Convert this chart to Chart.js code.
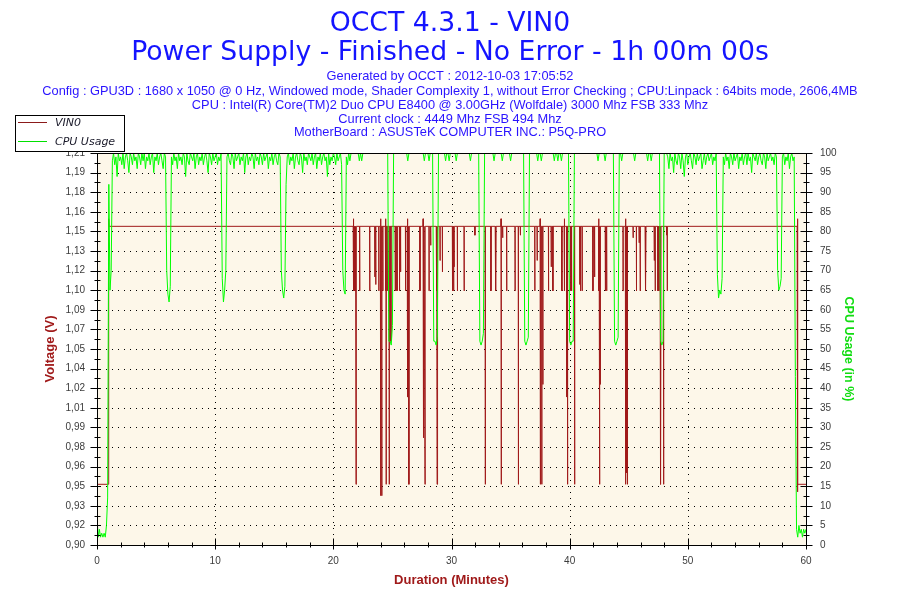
<!DOCTYPE html>
<html>
<head>
<meta charset="utf-8">
<title>OCCT 4.3.1 - VIN0</title>
<script src="https://cdn.jsdelivr.net/npm/chart.js@4.4.1/dist/chart.umd.min.js"></script>
<style>
    html, body { margin: 0; padding: 0; background: #fff; }
    #chart { display: block; }
</style>
</head>
<body>
<canvas id="chart" width="900" height="600"></canvas>
<script>
// values
const titleLines = ['OCCT 4.3.1 - VIN0', 'Power Supply - Finished - No Error - 1h 00m 00s']
const infoLines = [
    'Generated by OCCT : 2012-10-03 17:05:52',
    'Config : GPU3D : 1680 x 1050 @ 0 Hz, Windowed mode, Shader Complexity 1, without Error Checking ; CPU:Linpack : 64bits mode, 2606,4MB',
    'CPU : Intel(R) Core(TM)2 Duo CPU E8400 @ 3.00GHz (Wolfdale) 3000 Mhz FSB 333 Mhz',
    'Current clock : 4449 Mhz FSB 494 Mhz',
    'MotherBoard : ASUSTeK COMPUTER INC.: P5Q-PRO'
]

const minuteTicks = [0, 10, 20, 30, 40, 50, 60]
const voltTickLabels = ['0,90', '0,92', '0,93', '0,95', '0,96', '0,98', '0,99', '1,01', '1,02', '1,04', '1,05',
    '1,07', '1,09', '1,10', '1,12', '1,13', '1,15', '1,16', '1,18', '1,19', '1,21']
const cpuTickLabels = ['0', '5', '10', '15', '20', '25', '30', '35', '40', '45', '50',
    '55', '60', '65', '70', '75', '80', '85', '90', '95', '100']

// CPU usage (%), one value every 0.1 minute, one row per minute
const cpuStep = 0.1
const cpuUsage = [
    7, 2, 4, 2, 3, 2, 3, 2, 5, 12,
    92, 65, 70, 98, 100, 97, 99, 94, 100, 98,
    99, 97, 100, 96, 99, 100, 98, 95, 100, 99,
    97, 100, 98, 99, 96, 100, 99, 97, 100, 98,
    100, 96, 99, 98, 100, 97, 99, 100, 95, 99,
    98, 100, 97, 99, 100, 98, 96, 100, 99, 70,
    64, 62, 66, 99, 97, 100, 98, 99, 96, 100,
    98, 99, 97, 100, 99, 94, 100, 98, 97, 100,
    99, 98, 100, 96, 99, 100, 97, 99, 98, 100,
    97, 99, 100, 98, 95, 100, 99, 97, 100, 98,
    99, 100, 97, 99, 98, 100, 68, 62, 65, 70,
    99, 100, 98, 97, 100, 99, 96, 100, 98, 99,
    100, 97, 99, 98, 100, 95, 99, 100, 97, 99,
    98, 100, 99, 96, 100, 98, 99, 97, 100, 99,
    97, 100, 98, 99, 100, 96, 99, 98, 100, 97,
    99, 100, 98, 97, 100, 99, 70, 65, 63, 66,
    92, 99, 100, 97, 99, 98, 100, 96, 99, 100,
    98, 97, 100, 99, 95, 100, 98, 99, 97, 100,
    99, 98, 100, 97, 99, 100, 96, 99, 98, 100,
    97, 99, 100, 98, 99, 94, 100, 97, 99, 98,
    100, 99, 97, 100, 98, 99, 100, 97, 70, 65,
    64, 99, 97, 100, 98, 100, 100, 100, 100, 100,
    100, 100, 98, 100, 98, 100, 100, 100, 100, 100,
    100, 100, 100, 100, 100, 100, 100, 100, 100, 100,
    100, 100, 100, 100, 100, 100, 100, 52, 52, 51,
    56, 100, 100, 100, 100, 100, 100, 100, 100, 100,
    100, 100, 100, 98, 100, 100, 100, 100, 100, 100,
    100, 100, 100, 100, 100, 100, 100, 98, 100, 100,
    100, 98, 100, 100, 100, 52, 52, 51, 53, 100,
    100, 100, 100, 100, 100, 98, 100, 100, 98, 100,
    100, 100, 100, 100, 98, 100, 100, 100, 100, 100,
    100, 100, 100, 100, 100, 100, 98, 100, 100, 100,
    100, 100, 100, 100, 52, 51, 52, 54, 100, 100,
    100, 100, 100, 100, 100, 100, 98, 100, 100, 100,
    100, 100, 100, 98, 100, 100, 100, 100, 100, 100,
    98, 100, 100, 100, 100, 100, 100, 100, 100, 100,
    100, 100, 52, 51, 52, 53, 100, 100, 100, 100,
    100, 100, 100, 98, 100, 100, 98, 100, 100, 100,
    100, 100, 100, 100, 100, 100, 100, 98, 100, 100,
    98, 100, 100, 98, 100, 100, 100, 100, 100, 100,
    52, 51, 52, 52, 100, 100, 100, 100, 100, 100,
    100, 100, 100, 100, 100, 100, 100, 100, 100, 100,
    100, 100, 100, 100, 98, 100, 100, 100, 100, 100,
    98, 100, 100, 100, 100, 100, 100, 100, 52, 51,
    52, 53, 100, 100, 98, 100, 100, 100, 100, 100,
    100, 100, 100, 100, 100, 98, 100, 100, 100, 100,
    100, 100, 100, 100, 100, 100, 98, 100, 100, 98,
    100, 100, 100, 100, 100, 100, 100, 52, 51, 52,
    100, 100, 100, 99, 96, 100, 98, 99, 95, 100,
    98, 97, 100, 99, 96, 100, 98, 94, 99, 100,
    97, 99, 100, 98, 96, 100, 99, 97, 100, 98,
    99, 100, 96, 98, 100, 97, 99, 100, 98, 99,
    100, 97, 99, 98, 100, 69, 63, 65, 64, 68,
    99, 97, 100, 98, 99, 96, 100, 99, 97, 100,
    98, 99, 100, 96, 99, 98, 100, 97, 99, 100,
    97, 100, 98, 99, 95, 100, 99, 98, 100, 97,
    99, 100, 98, 97, 100, 99, 96, 100, 98, 99,
    100, 98, 99, 97, 100, 99, 70, 65, 66, 68,
    99, 100, 97, 99, 98, 100, 96, 99, 100, 98,
    99, 43, 4, 2, 5, 3, 4, 2, 4, 3,
    4
]

// VIN0 (V): steady level with short dips, plus the start and end of the run
const vinBase = 1.152
const vinStartTimes = [0, 0.96, 0.98, 1.0, 1.02]
const vinStartValues = [0.948, 0.948, 1.13, 1.158, 1.152]
const vinDipTimes = [
    21.69, 21.72, 21.78, 21.84, 21.92, 21.95, 22.23, 23.08, 23.51, 23.59,
    23.85, 23.99, 24.02, 24.10, 24.19, 24.41, 24.44, 24.47, 24.56, 24.73,
    24.87, 25.24, 25.32, 25.41, 25.60, 25.69, 26.11, 26.26, 26.285, 26.31,
    26.40, 27.33, 27.59, 27.62, 27.67, 27.76, 28.10, 28.24, 28.72, 28.78,
    28.83, 29.03, 29.23, 30.08, 30.17, 30.22, 30.50, 31.07, 31.98, 32.86,
    33.34, 33.71, 33.76, 34.19, 34.22, 34.33, 34.67, 35.38, 35.66, 35.83,
    37.05, 37.25, 37.50, 37.53, 37.64, 37.73, 38.21, 38.44, 38.58, 39.34,
    39.54, 39.57, 39.74, 39.82, 40.08, 40.16, 40.42, 40.85, 40.92, 41.06,
    41.97, 42.11, 42.45, 42.48, 42.54, 42.59, 43.02, 43.13, 44.52, 44.72,
    44.75, 44.80, 44.89, 45.37, 45.65, 45.88, 45.97, 46.39, 46.45, 47.16,
    47.24, 47.47, 47.55, 47.66, 47.72, 47.95, 48.20, 48.26
]
const vinDipValues = [
    1.158, 1.101, 1.101, 1.101, 0.948, 1.017, 1.101, 1.101, 1.112, 1.106,
    1.101, 1.158, 0.939, 0.939, 1.101, 1.158, 1.101, 0.948, 1.101, 0.948,
    1.061, 1.101, 1.101, 1.101, 1.101, 1.116, 1.101, 1.101, 1.158, 1.017,
    0.948, 1.101, 1.158, 1.101, 0.985, 0.948, 1.101, 1.137, 1.101, 0.948,
    1.017, 1.125, 1.116, 1.101, 1.101, 1.120, 1.101, 1.101, 1.145, 0.948,
    1.101, 1.125, 1.101, 1.158, 0.948, 1.143, 1.101, 1.101, 0.948, 1.145,
    1.101, 1.125, 1.158, 0.948, 0.948, 1.027, 1.101, 1.120, 1.101, 1.101,
    1.158, 1.101, 1.017, 0.948, 1.101, 1.101, 0.948, 1.106, 1.101, 1.101,
    1.101, 1.112, 1.158, 1.101, 0.948, 1.027, 1.101, 1.101, 1.101, 1.158,
    0.948, 0.957, 0.948, 1.143, 1.101, 1.139, 1.101, 1.116, 1.101, 1.125,
    1.101, 1.101, 1.101, 0.985, 0.948, 0.948, 1.145, 1.101
]
const vinEndTimes = [59.25, 59.27, 59.29, 59.31, 60]
const vinEndValues = [1.152, 1.158, 0.942, 0.948, 0.948]

const dipHalfWidth = 0.012 // minutes, each dip is a single sample

function buildVinPoints() {
    const points = vinStartTimes.map((t, i) => ({ x: t, y: vinStartValues[i] }))
    vinDipTimes.forEach((t, i) => {
        points.push({ x: t - dipHalfWidth, y: vinBase })
        points.push({ x: t, y: vinDipValues[i] })
        points.push({ x: t + dipHalfWidth, y: vinBase })
    })
    vinEndTimes.forEach((t, i) => points.push({ x: t, y: vinEndValues[i] }))
    return points
}

function buildCpuPoints() {
    return cpuUsage.map((v, i) => ({ x: Math.round(i * cpuStep * 10) / 10, y: v }))
}

const plotBackground = '#fdf7e9'
const tickFont = { family: 'Liberation Sans', size: 10 }
const tickColor = '#3c3c3c'

// frame, dotted grid, crossing tick marks, titles and the boxed legend
const occtFrame = {
    id: 'occtFrame',
    beforeDraw(chart) {
        const { ctx, chartArea: a } = chart
        ctx.save()
        ctx.fillStyle = '#ffffff'
        ctx.fillRect(0, 0, chart.width, chart.height)
        ctx.fillStyle = plotBackground
        ctx.fillRect(a.left, a.top, a.right - a.left, a.bottom - a.top)
        ctx.restore()
    },
    beforeDatasetsDraw(chart) {
        const { ctx, chartArea: a, scales } = chart
        ctx.save()
        ctx.strokeStyle = '#000'
        ctx.lineWidth = 1
        ctx.setLineDash([1, 5])
        scales.yVolt.ticks.forEach((t, i, all) => {
            if (i === 0 || i === all.length - 1) return
            const y = Math.round(scales.yVolt.getPixelForValue(t.value)) + 0.5
            ctx.beginPath()
            ctx.moveTo(a.left + 3, y)
            ctx.lineTo(a.right, y)
            ctx.stroke()
        })
        scales.x.ticks.forEach((t, i, all) => {
            if (i === 0 || i === all.length - 1) return
            const x = Math.round(scales.x.getPixelForValue(t.value)) + 0.5
            ctx.beginPath()
            ctx.moveTo(x, a.top + 3)
            ctx.lineTo(x, a.bottom)
            ctx.stroke()
        })
        ctx.restore()
    },
    afterDatasetsDraw(chart) {
        const { ctx, chartArea: a, scales } = chart
        const left = Math.round(a.left) + 0.5
        const right = Math.round(a.right) + 0.5
        const top = Math.round(a.top) + 0.5
        const bottom = Math.round(a.bottom) + 0.5
        ctx.save()
        ctx.strokeStyle = '#000'
        ctx.lineWidth = 1
        ctx.strokeRect(left, top, right - left, bottom - top)

        const hLine = (x1, x2, y) => {
            ctx.beginPath(); ctx.moveTo(x1, y); ctx.lineTo(x2, y); ctx.stroke()
        }
        const vLine = (x, y1, y2) => {
            ctx.beginPath(); ctx.moveTo(x, y1); ctx.lineTo(x, y2); ctx.stroke()
        }
        // y axes: major tick on every label, minor halfway, both crossing the axis
        const yTicks = (scale, x, majorOut, majorIn) => {
            const vals = scale.ticks.map(t => t.value)
            vals.forEach((v, i) => {
                const y = Math.round(scale.getPixelForValue(v)) + 0.5
                hLine(x - majorOut, x + majorIn, y)
                if (i < vals.length - 1) {
                    const ym = Math.round(scale.getPixelForValue((v + vals[i + 1]) / 2)) + 0.5
                    hLine(x - 3, x + 3, ym)
                }
            })
        }
        yTicks(scales.yVolt, left, 7, 3)
        yTicks(scales.yCpu, right, 6, 6)
        // x axis: major every 10 min, minor every 2 min
        for (let m = 0; m <= 60; m += 2) {
            const x = Math.round(scales.x.getPixelForValue(m)) + 0.5
            if (m % 10 === 0) vLine(x, bottom - 7, bottom + 4)
            else vLine(x, bottom - 3, bottom + 2)
        }
        ctx.restore()
    },
    afterDraw(chart) {
        const { ctx } = chart
        ctx.save()
        ctx.textAlign = 'center'
        ctx.textBaseline = 'alphabetic'
        ctx.fillStyle = '#1414ff'
        ctx.font = '26.7px "DejaVu Sans"'
        ctx.fillText(titleLines[0], 450, 31)
        ctx.fillText(titleLines[1], 450, 60)
        ctx.fillStyle = '#2a14ff'
        ctx.font = '12.8px "Liberation Sans"'
        const infoBaselines = [80, 95, 109, 123, 136]
        infoLines.forEach((line, i) => ctx.fillText(line, 450, infoBaselines[i]))

        // legend box
        ctx.fillStyle = '#fff'
        ctx.fillRect(15, 115, 109, 36)
        ctx.strokeStyle = '#000'
        ctx.lineWidth = 1
        ctx.strokeRect(15.5, 115.5, 109, 36)
        ctx.textAlign = 'left'
        ctx.textBaseline = 'middle'
        ctx.font = 'italic 11px "DejaVu Sans"'
        const rows = [122.5, 141.5]
        chart.data.datasets.forEach((ds, i) => {
            ctx.strokeStyle = ds.legendColor
            ctx.beginPath()
            ctx.moveTo(18, rows[i])
            ctx.lineTo(47, rows[i])
            ctx.stroke()
            ctx.fillStyle = '#1a1a2a'
            ctx.fillText(ds.label, 55, rows[i] + 0.5)
        })
        ctx.restore()
    }
}

new Chart(document.getElementById('chart'), {
    type: 'line',
    data: {
        datasets: [
            {
                label: 'VIN0',
                data: buildVinPoints(),
                yAxisID: 'yVolt',
                borderColor: '#a01a1a',
                legendColor: '#8b1a1a',
                borderWidth: 1,
                pointRadius: 0,
                order: 1
            },
            {
                label: 'CPU Usage',
                data: buildCpuPoints(),
                yAxisID: 'yCpu',
                borderColor: '#00ff00',
                legendColor: '#00e000',
                borderWidth: 1,
                pointRadius: 0,
                order: 0
            }
        ]
    },
    options: {
        responsive: false,
        animation: false,
        devicePixelRatio: 1,
        layout: { padding: { top: 153, left: 39, right: 40, bottom: 8 } },
        elements: { line: { tension: 0 } },
        plugins: {
            legend: { display: false },
            tooltip: { enabled: false },
            title: { display: false }
        },
        scales: {
            x: {
                type: 'linear',
                min: 0,
                max: 60,
                grid: { display: false, drawTicks: false },
                border: { display: false },
                afterBuildTicks: scale => { scale.ticks = minuteTicks.map(v => ({ value: v })) },
                afterFit: scale => { scale.height = 47 },
                ticks: { autoSkip: false, maxRotation: 0, padding: 10, color: tickColor, font: tickFont },
                title: {
                    display: true,
                    text: 'Duration (Minutes)',
                    color: '#a01a1a',
                    font: { family: 'Liberation Sans', size: 13, weight: 'bold' },
                    padding: { top: 4, bottom: 4 }
                }
            },
            yVolt: {
                position: 'left',
                min: 0.9,
                max: 1.21,
                grid: { display: false, drawTicks: false },
                border: { display: false },
                afterBuildTicks: scale => {
                    const step = (scale.max - scale.min) / (voltTickLabels.length - 1)
                    scale.ticks = voltTickLabels.map((_, i) => ({ value: scale.min + i * step }))
                },
                afterFit: scale => { scale.width = 58 },
                ticks: {
                    autoSkip: false,
                    padding: 12,
                    color: tickColor,
                    font: tickFont,
                    callback: (value, index) => voltTickLabels[index]
                },
                title: {
                    display: true,
                    text: 'Voltage (V)',
                    color: '#a01a1a',
                    font: { family: 'Liberation Sans', size: 13, weight: 'bold' },
                    padding: { top: 4, bottom: 4 }
                }
            },
            yCpu: {
                position: 'right',
                min: 0,
                max: 100,
                grid: { display: false, drawTicks: false },
                border: { display: false },
                afterBuildTicks: scale => {
                    const step = (scale.max - scale.min) / (cpuTickLabels.length - 1)
                    scale.ticks = cpuTickLabels.map((_, i) => ({ value: scale.min + i * step }))
                },
                afterFit: scale => { scale.width = 54 },
                ticks: {
                    autoSkip: false,
                    padding: 14,
                    color: tickColor,
                    font: tickFont,
                    callback: (value, index) => cpuTickLabels[index]
                },
                title: {
                    display: true,
                    text: 'CPU Usage (in %)',
                    color: '#11dd11',
                    font: { family: 'Liberation Sans', size: 12.5, weight: 'bold' },
                    padding: { top: 4, bottom: 4 }
                }
            }
        }
    },
    plugins: [occtFrame]
})
</script>
</body>
</html>
